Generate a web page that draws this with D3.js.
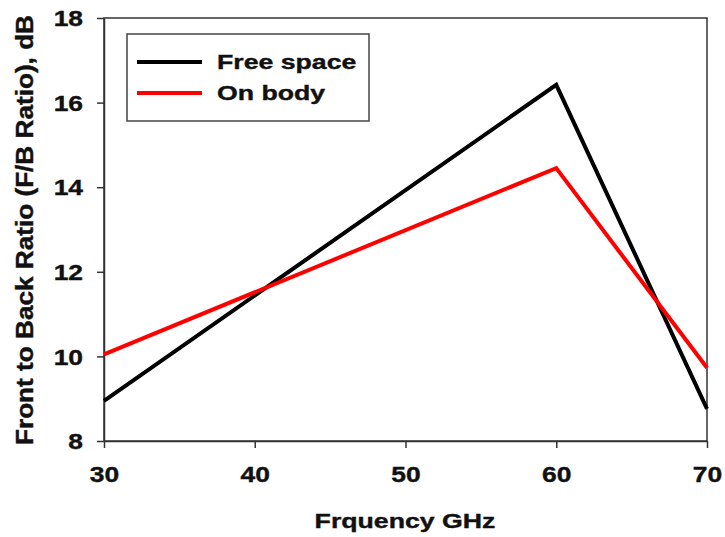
<!DOCTYPE html>
<html>
<head>
<meta charset="utf-8">
<script src="https://cdn.jsdelivr.net/npm/d3@7"></script>
<style>
  body { margin: 0; background: #fff; }
  svg text { font-family: "Liberation Sans", Arial, sans-serif; font-weight: bold; fill: #111; stroke: #111; stroke-width: 0.4px; }
</style>
</head>
<body>
<svg width="725" height="537"></svg>
<script>
const freqs = [30, 60, 70];
const freeSpace = [8.95, 16.42, 8.76];
const onBody = [10.05, 14.45, 9.73];
const xTicks = [30, 40, 50, 60, 70];
const yTicks = [8, 10, 12, 14, 16, 18];

const series = [
	{ name: "Free space", color: "#000000", values: freeSpace },
	{ name: "On body", color: "#ff0000", values: onBody },
];

const svg = d3.select("svg");
const margin = { top: 18, right: 18, bottom: 96, left: 104 };
const width = 725, height = 537;
const sx = 1.27; // the original glyphs are stretched sideways
const tickSx = 1.2;

const x = d3.scaleLinear().domain([30, 70]).range([margin.left, width - margin.right]);
const y = d3.scaleLinear().domain([8, 18]).range([height - margin.bottom, margin.top]);

// frame
svg.append("rect")
	.attr("x", x(30)).attr("y", y(18))
	.attr("width", x(70) - x(30)).attr("height", y(8) - y(18))
	.attr("fill", "none").attr("stroke", "#333").attr("stroke-width", 1.5);

const xAxis = svg.append("g")
	.attr("transform", `translate(0,${y(8)})`)
	.call(d3.axisBottom(x).tickValues(xTicks).tickSize(7).tickSizeOuter(0));
const yAxis = svg.append("g")
	.attr("transform", `translate(${x(30)},0)`)
	.call(d3.axisLeft(y).tickValues(yTicks).tickSize(7).tickSizeOuter(0));

[xAxis, yAxis].forEach(g => {
	g.select(".domain").attr("stroke", "#333").attr("stroke-width", 1.5);
	g.selectAll(".tick line").attr("stroke", "#333").attr("stroke-width", 1.5);
	g.selectAll(".tick text").attr("font-size", 22).attr("fill", "#111");
});
// widen tick labels around their anchor
xAxis.selectAll(".tick text")
	.attr("y", null).attr("dy", "0.71em")
	.attr("transform", `translate(0,25) scale(${tickSx},1)`);
yAxis.selectAll(".tick text")
	.attr("x", null).attr("dy", "0.35em")
	.attr("transform", `translate(-21,0) scale(${tickSx},1)`);

// lines
const line = d3.line().x(d => x(d[0])).y(d => y(d[1]));
series.forEach(s => {
	svg.append("path")
		.datum(freqs.map((f, i) => [f, s.values[i]]))
		.attr("d", line)
		.attr("fill", "none")
		.attr("stroke", s.color)
		.attr("stroke-width", 4)
		.attr("stroke-linejoin", "miter");
});

// legend
const legend = svg.append("g");
legend.append("rect")
	.attr("x", 127).attr("y", 34).attr("width", 242).attr("height", 87)
	.attr("fill", "#fff").attr("stroke", "#444").attr("stroke-width", 1.5);
series.forEach((s, i) => {
	const ly = 62 + i * 31;
	legend.append("line")
		.attr("x1", 137).attr("x2", 202).attr("y1", ly).attr("y2", ly)
		.attr("stroke", s.color).attr("stroke-width", 4);
	legend.append("text")
		.attr("transform", `translate(217,${ly + 7}) scale(${sx},1)`)
		.attr("font-size", 21)
		.text(s.name);
});

// axis titles
svg.append("text")
	.attr("transform", `translate(405,528) scale(${sx},1)`)
	.attr("text-anchor", "middle")
	.attr("font-size", 21)
	.text("Frquency GHz");

svg.append("text")
	.attr("transform", "translate(33,230) rotate(-90)")
	.attr("text-anchor", "middle")
	.attr("font-size", 23)
	.attr("textLength", 430)
	.attr("lengthAdjust", "spacingAndGlyphs")
	.text("Front to Back Ratio (F/B Ratio), dB");
</script>
</body>
</html>
